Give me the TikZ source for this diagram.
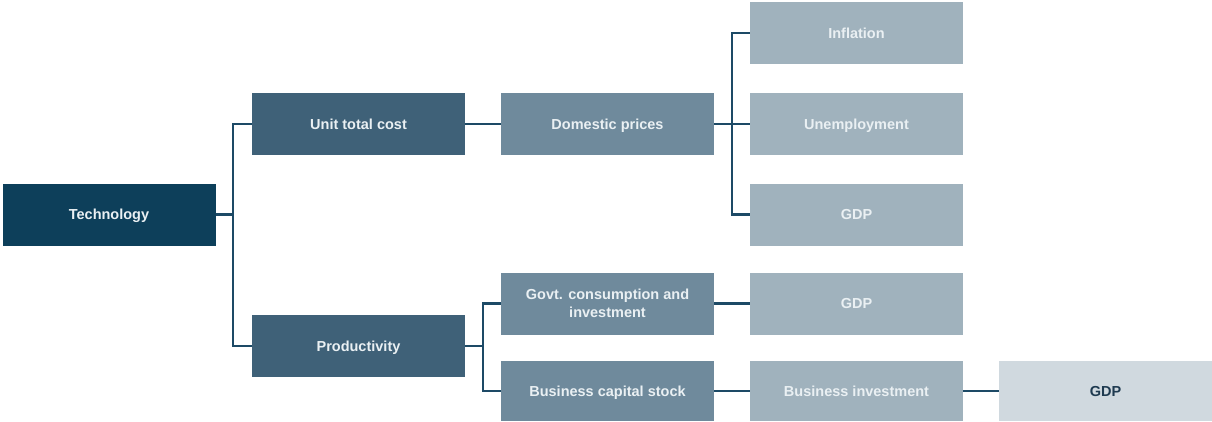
\documentclass[tikz,border=0pt]{standalone}
\usepackage{fontspec}
\setmainfont{Liberation Sans}
\begin{document}
\definecolor{lvA}{HTML}{0D3F5A}
\definecolor{lvB}{HTML}{3F6178}
\definecolor{lvC}{HTML}{6F8A9C}
\definecolor{lvD}{HTML}{A0B2BD}
\definecolor{lvE}{HTML}{D0D9DF}
\definecolor{linkc}{HTML}{1D4A66}
\definecolor{lighttext}{HTML}{EAF0F3}
\definecolor{darktext}{HTML}{1E3A50}
\begin{tikzpicture}[x=1pt,y=-1pt,
  box/.style={rectangle, minimum width=213pt, minimum height=62pt, inner sep=2pt,
    align=center, font=\fontsize{14.5}{18}\selectfont\bfseries, text=lighttext},
  oneline/.style={box, text height=12pt, text depth=1.5pt},
  link/.style={draw=linkc, line width=2.6pt}]
\useasboundingbox (0,0) rectangle (1212,421);
% level 0
\node[oneline, fill=lvA] (tech) at (109,214.5) {Technology};
% level 1
\node[oneline, fill=lvB] (unit) at (358.5,124) {Unit total cost};
\node[oneline, fill=lvB] (prod) at (358.5,346) {Productivity};
% level 2
\node[oneline, fill=lvC] (dom) at (607.5,124) {Domestic prices};
\node[box, fill=lvC] (govt) at (607.5,303.5) {Govt. consumption and\\investment};
\node[oneline, fill=lvC, minimum height=60pt] (bcs) at (607.5,391) {Business capital stock};
% level 3
\node[oneline, fill=lvD] (infl) at (856.5,33) {Inflation};
\node[oneline, fill=lvD] (unemp) at (856.5,124) {Unemployment};
\node[oneline, fill=lvD] (gdpa) at (856.5,214.5) {GDP};
\node[oneline, fill=lvD] (gdpb) at (856.5,303.5) {GDP};
\node[oneline, fill=lvD, minimum height=60pt] (binv) at (856.5,391) {Business investment};
% level 4
\node[oneline, fill=lvE, text=darktext, minimum height=60pt] (gdpc) at (1105.5,391) {GDP};
% connectors
\coordinate (j1) at (233,214.5);
\coordinate (j2) at (732,124);
\coordinate (j3) at (483,346);
\draw[link] (tech.east) -- (j1);
\draw[link] (unit.west) -| (j1) |- (prod.west);
\draw[link] (unit.east) -- (dom.west);
\draw[link] (dom.east) -- (unemp.west);
\draw[link] (infl.west) -| (j2) |- (gdpa.west);
\draw[link] (prod.east) -- (j3);
\draw[link] (govt.west) -| (j3) |- (bcs.west);
\draw[link] (govt.east) -- (gdpb.west);
\draw[link] (bcs.east) -- (binv.west);
\draw[link] (binv.east) -- (gdpc.west);
\end{tikzpicture}
\end{document}
